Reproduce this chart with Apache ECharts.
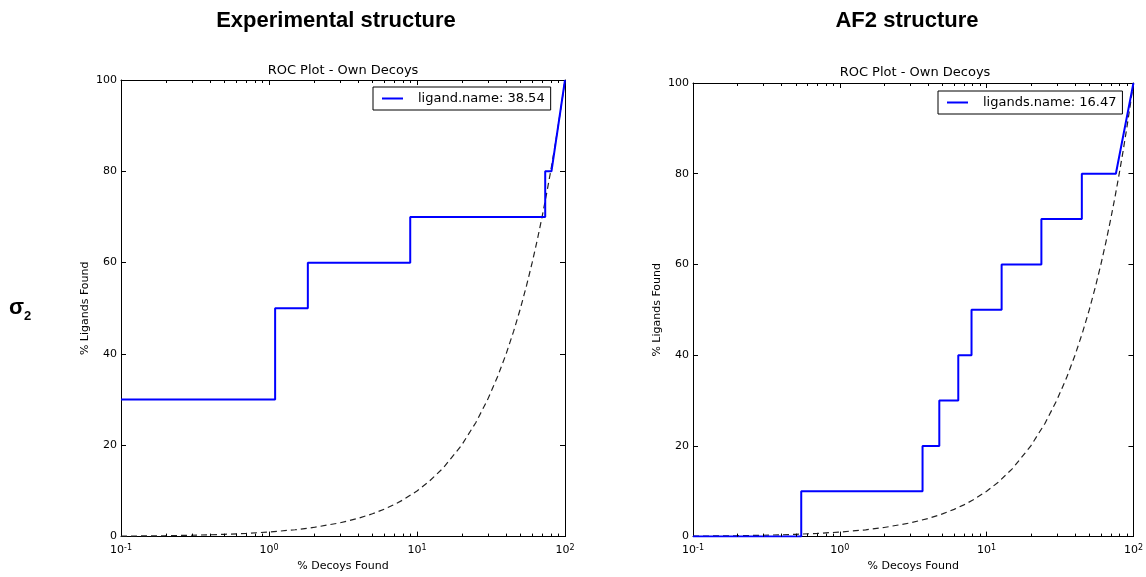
<!DOCTYPE html>
<html><head><meta charset="utf-8">
<script src="https://cdn.jsdelivr.net/npm/echarts@6/dist/echarts.min.js"></script>
<style>html,body{margin:0;padding:0;background:#fff}#c{width:1146px;height:577px}</style>
</head><body><div id="c"></div>
<script>
const panelTitles = ['Experimental structure', 'AF2 structure'];
const rowLabel = 'σ';
const rowLabelSub = '2';
const subTitle = 'ROC Plot - Own Decoys';
const xName = '% Decoys Found';
const yName = '% Ligands Found';
const yTicks = [0, 20, 40, 60, 80, 100];
const xTicks = [0.1, 1, 10, 100];
const minorTicks = [0.2,0.3,0.4,0.5,0.6,0.7,0.8,0.9,2,3,4,5,6,7,8,9,20,30,40,50,60,70,80,90];

const expName = 'ligand.name: 38.54';
const expX = [0.1, 1.1, 1.1, 1.83, 1.83, 9.0, 9.0, 73.5, 73.5, 81, 100];
const expY = [30, 30, 50, 50, 60, 60, 70, 70, 80, 80, 100];

const af2Name = 'ligands.name: 16.47';
const af2X = [0.1, 0.546, 0.546, 3.66, 3.66, 4.76, 4.76, 6.41, 6.41, 7.89, 7.89, 12.65, 12.65, 23.6, 23.6, 44.5, 44.5, 75.9, 100];
const af2Y = [0, 0, 10, 10, 20, 20, 30, 30, 40, 40, 50, 50, 60, 60, 70, 70, 80, 80, 100];

const randX = [0.1,0.15,0.2,0.3,0.4,0.5,0.7,1,1.5,2,3,4,5,6,7,8,10,12,15,20,25,30,35,40,45,50,55,60,65,70,75,80,85,90,95,100];
const randY = [0.1,0.15,0.2,0.3,0.4,0.5,0.7,1,1.5,2,3,4,5,6,7,8,10,12,15,20,25,30,35,40,45,50,55,60,65,70,75,80,85,90,95,100];

const FONT = 'DejaVu Sans';
const grids = [
  {left: 121, top: 80, width: 444, height: 457},
  {left: 693, top: 83, width: 444, height: 458}
];
const zip = (a, b) => a.map((v, i) => [v, b[i]]);

const xAxes = [], yAxes = [], series = [];
const lineDefs = [[expName, expX, expY], [af2Name, af2X, af2Y]];

grids.forEach((g, i) => {
  const axLine = {show: true, onZero: false, lineStyle: {color: '#000', width: 1}};
  const tick = {show: true, inside: true, length: 5, lineStyle: {color: '#000', width: 1}};
  xAxes.push({
    type: 'log', logBase: 10, min: 0.1, max: 100, gridIndex: i, position: 'bottom',
    axisLine: axLine, splitLine: {show: false}, axisTick: tick,
    name: xName, nameLocation: 'middle', nameGap: 24,
    nameTextStyle: {fontFamily: FONT, fontSize: 11, color: '#000'},
    axisLabel: {
      margin: 7, color: '#000', fontFamily: FONT,
      formatter: v => '{b|10}{s|' + Math.round(Math.log10(v)) + '}',
      rich: {
        b: {fontSize: 11, lineHeight: 14, fontFamily: FONT, color: '#000'},
        s: {fontSize: 8, lineHeight: 8, verticalAlign: 'top', fontFamily: FONT, color: '#000'}
      }
    }
  });
  xAxes.push({
    type: 'log', logBase: 10, min: 0.1, max: 100, gridIndex: i, position: 'top',
    axisLine: axLine, splitLine: {show: false}, axisLabel: {show: false}, axisTick: tick
  });
  yAxes.push({
    type: 'value', min: 0, max: 100, interval: 20, gridIndex: i, position: 'left',
    axisLine: axLine, splitLine: {show: false}, axisTick: tick,
    axisLabel: {margin: 4, color: '#000', fontFamily: FONT, fontSize: 11},
    name: yName, nameLocation: 'middle', nameGap: 30,
    nameTextStyle: {fontFamily: FONT, fontSize: 11, color: '#000'}
  });
  yAxes.push({
    type: 'value', min: 0, max: 100, interval: 20, gridIndex: i, position: 'right',
    axisLine: axLine, splitLine: {show: false}, axisLabel: {show: false}, axisTick: tick
  });
  series.push({
    type: 'line', name: 'random', xAxisIndex: 2 * i, yAxisIndex: 2 * i,
    data: zip(randX, randY), showSymbol: false, symbol: 'none', silent: true,
    lineStyle: {color: '#222', width: 1.2, type: [6, 4]}, z: 3
  });
  series.push({
    type: 'line', name: lineDefs[i][0], xAxisIndex: 2 * i, yAxisIndex: 2 * i,
    data: zip(lineDefs[i][1], lineDefs[i][2]), showSymbol: false, symbol: 'none',
    lineStyle: {color: '#0000ff', width: 2}, itemStyle: {color: '#0000ff'}, z: 4
  });
  series.push({
    type: 'custom', name: 'minor', xAxisIndex: 2 * i, yAxisIndex: 2 * i, silent: true, clip: false,
    data: minorTicks.map(v => [v, 0]), encode: {x: 0, y: 1}, z: 5,
    renderItem: (params, api) => {
      const v = api.value(0);
      const pb = api.coord([v, 0]);
      const pt = api.coord([v, 100]);
      const x = Math.round(pb[0]) + 0.5;
      const st = {stroke: '#000', lineWidth: 1};
      return {type: 'group', children: [
        {type: 'line', shape: {x1: x, y1: pb[1], x2: x, y2: pb[1] - 3}, style: st},
        {type: 'line', shape: {x1: x, y1: pt[1], x2: x, y2: pt[1] + 3}, style: st}
      ]};
    }
  });
});

const legendCommon = {
  orient: 'horizontal', itemWidth: 21, itemHeight: 2, icon: 'rect',
  borderColor: '#000', borderWidth: 1, borderRadius: 0, padding: [5, 6, 5, 9],
  backgroundColor: '#fff',
  textStyle: {fontFamily: FONT, fontSize: 13, color: '#000',
    rich: {t: {fontFamily: FONT, fontSize: 13, lineHeight: 14, color: '#000', padding: [0, 0, 0, 10]}}},
  formatter: n => '{t|' + n + '}',
  selectedMode: false
};

const option = {
  backgroundColor: '#fff',
  animation: false,
  grid: grids,
  xAxis: xAxes,
  yAxis: yAxes,
  legend: [
    Object.assign({}, legendCommon, {data: [expName], left: 373, top: 87}),
    Object.assign({}, legendCommon, {data: [af2Name], left: 938, top: 91})
  ],
  series: series,
  graphic: [
    {type: 'text', x: 336, y: 21, style: {text: panelTitles[0], fontFamily: 'Liberation Sans', fontWeight: 'bold', fontSize: 22, fill: '#000', textAlign: 'center', textVerticalAlign: 'middle'}},
    {type: 'text', x: 907, y: 21, style: {text: panelTitles[1], fontFamily: 'Liberation Sans', fontWeight: 'bold', fontSize: 22, fill: '#000', textAlign: 'center', textVerticalAlign: 'middle'}},
    {type: 'text', x: 343, y: 70.5, style: {text: subTitle, fontFamily: FONT, fontSize: 13, fill: '#000', textAlign: 'center', textVerticalAlign: 'middle'}},
    {type: 'text', x: 915, y: 73, style: {text: subTitle, fontFamily: FONT, fontSize: 13, fill: '#000', textAlign: 'center', textVerticalAlign: 'middle'}},
    {type: 'text', x: 9, y: 319, style: {text: rowLabel, fontFamily: 'Liberation Sans', fontWeight: 'bold', fontSize: 22, fill: '#000', textAlign: 'left', textVerticalAlign: 'bottom'}},
    {type: 'text', x: 24, y: 323, style: {text: rowLabelSub, fontFamily: 'Liberation Sans', fontWeight: 'bold', fontSize: 13, fill: '#000', textAlign: 'left', textVerticalAlign: 'bottom'}}
  ]
};
const chart = echarts.init(document.getElementById('c'), null, {renderer: 'canvas'});
chart.setOption(option);
</script>
</body></html>
